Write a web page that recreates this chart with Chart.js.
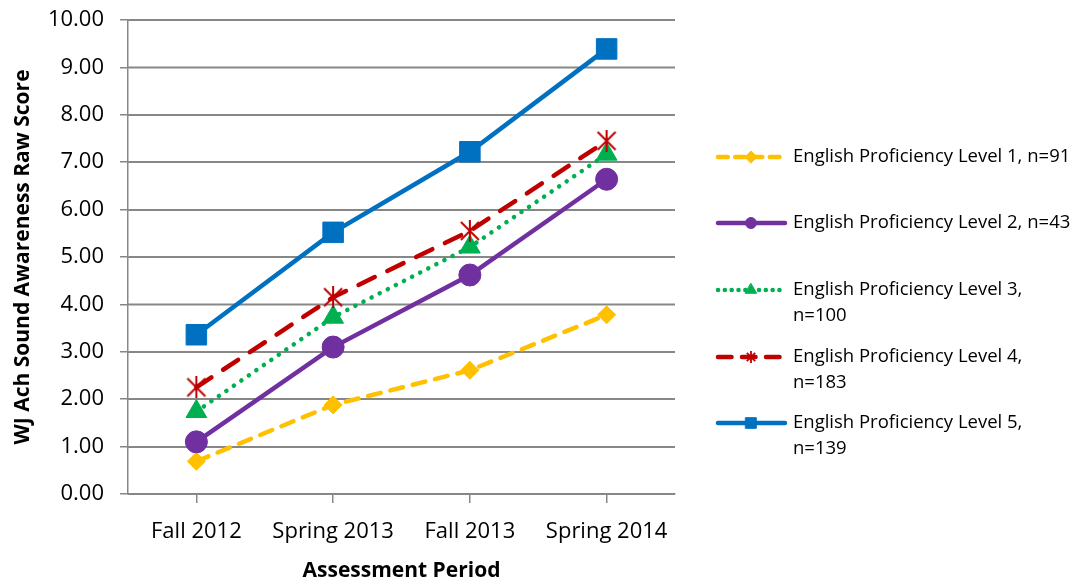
<!DOCTYPE html>
<html>
<head>
<meta charset="utf-8">
<script src="https://cdn.jsdelivr.net/npm/chart.js@4/dist/chart.umd.min.js"></script>
<style>
  html, body { margin: 0; padding: 0; background: #fff; }
  #wrap { width: 1080px; height: 585px; }
</style>
</head>
<body>
<div id="wrap"><canvas id="grafica" width="1080" height="585"></canvas></div>
<script>
// Datos
const periodos = ["Fall 2012", "Spring 2013", "Fall 2013", "Spring 2014"];
const nivel1 = [0.69, 1.88, 2.61, 3.78];
const nivel2 = [1.10, 3.10, 4.62, 6.64];
const nivel3 = [1.74, 3.73, 5.21, 7.17];
const nivel4 = [2.25, 4.15, 5.55, 7.45];
const nivel5 = [3.36, 5.52, 7.22, 9.39];
const etiquetas = [
  ["English Proficiency Level 1, n=91"],
  ["English Proficiency Level 2, n=43"],
  ["English Proficiency Level 3,", "n=100"],
  ["English Proficiency Level 4,", "n=183"],
  ["English Proficiency Level 5,", "n=139"],
];

const FUENTE = "'Open Sans', sans-serif";
const GRIS = "#878787";

// Marcador tipo asterisco de Excel (X con línea vertical)
function crearEstrella(tam, grosor) {
  const c = document.createElement("canvas");
  c.width = tam; c.height = tam;
  const g = c.getContext("2d");
  g.strokeStyle = "#C00000";
  g.lineWidth = grosor;
  const m = grosor, s = tam - grosor;
  g.beginPath();
  g.moveTo(m, m); g.lineTo(s, s);
  g.moveTo(s, m); g.lineTo(m, s);
  g.moveTo(tam / 2, 0); g.lineTo(tam / 2, tam);
  g.stroke();
  return c;
}
const estrella = crearEstrella(22, 2);
const estrellaChica = crearEstrella(12, 1.8);

const series = [
  { datos: nivel1, color: "#FFC000", punto: "rectRot", radio: 9, dash: [13, 10], radioLeyenda: 6 },
  { datos: nivel2, color: "#7030A0", punto: "circle", radio: 11, dash: [], radioLeyenda: 5.5 },
  { datos: nivel3, color: "#00B050", punto: "triangle", radio: 12, dash: [0.1, 9], radioLeyenda: 6.5 },
  { datos: nivel4, color: "#C00000", punto: estrella, radio: 11, dash: [18, 14], radioLeyenda: 6, chica: estrellaChica },
  { datos: nivel5, color: "#0070C0", punto: "rect", radio: 14.5, dash: [], radioLeyenda: 7.5 },
];

// Líneas horizontales de la cuadrícula
const cuadriculaPlugin = {
  id: "cuadricula",
  beforeDatasetsDraw(chart) {
    const ctx = chart.ctx;
    const y = chart.scales.y;
    const area = chart.chartArea;
    ctx.save();
    ctx.strokeStyle = GRIS;
    ctx.lineWidth = 1.5;
    y.ticks.forEach(function (t) {
      const py = Math.round(y.getPixelForValue(t.value)) + 0.25;
      ctx.beginPath();
      ctx.moveTo(area.left, py);
      ctx.lineTo(area.right, py);
      ctx.stroke();
    });
    ctx.restore();
  },
};

// Leyenda dibujada a la derecha
const leyendaPlugin = {
  id: "leyendaDerecha",
  afterDraw(chart) {
    const ctx = chart.ctx;
    const filas = [157, 223, 290, 357, 423];
    series.forEach(function (s, i) {
      const y = filas[i];
      ctx.save();
      ctx.strokeStyle = s.color;
      ctx.lineWidth = 4.5;
      ctx.lineCap = "round";
      ctx.setLineDash(s.dash.length ? s.dash.map(v => v * 0.75) : []);
      ctx.beginPath();
      ctx.moveTo(718, y);
      ctx.lineTo(785, y);
      ctx.stroke();
      ctx.setLineDash([]);
      ctx.fillStyle = s.color;
      ctx.strokeStyle = s.color;
      ctx.lineWidth = 1;
      if (s.chica) {
        ctx.drawImage(s.chica, 751 - 6, y - 6);
      } else {
        Chart.helpers.drawPoint(ctx, { pointStyle: s.punto, radius: s.radioLeyenda, borderWidth: 1, rotation: 0 }, 751, y);
      }
      ctx.fillStyle = "#000";
      ctx.font = "18.5px " + FUENTE;
      ctx.textBaseline = "middle";
      ctx.textAlign = "left";
      etiquetas[i].forEach(function (linea, j) {
        ctx.fillText(linea, 793, y + j * 26);
      });
      ctx.restore();
    });
  },
};

const ctx = document.getElementById("grafica").getContext("2d");
new Chart(ctx, {
  type: "line",
  data: {
    labels: periodos,
    datasets: series.map(function (s, i) {
      return {
        label: etiquetas[i].join(" "),
        data: s.datos,
        borderColor: s.color,
        backgroundColor: s.color,
        borderWidth: 4.5,
        borderDash: s.dash,
        borderCapStyle: "round",
        pointStyle: s.punto,
        pointRadius: s.radio,
        pointHoverRadius: s.radio,
        pointBorderWidth: 1,
        tension: 0,
        fill: false,
        order: 5 - i,
      };
    }),
  },
  options: {
    responsive: false,
    animation: false,
    layout: { padding: { top: 20, right: 405, left: 0, bottom: 0 } },
    plugins: {
      legend: { display: false },
      tooltip: { enabled: false },
    },
    scales: {
      x: {
        offset: true,
        grid: { display: true, drawOnChartArea: false, color: GRIS, lineWidth: 1.5, tickLength: 9 },
        border: { display: true, color: GRIS, width: 1.5 },
        ticks: { color: "#000", font: { family: FUENTE, size: 22 }, padding: 16 },
        title: {
          display: true,
          text: "Assessment Period",
          color: "#000",
          font: { family: FUENTE, size: 21, weight: "bold" },
          padding: { top: 0, bottom: 1 },
        },
        afterFit(scale) {
          scale.height = 91;
          scale.paddingLeft = 0;
          scale.paddingRight = 0;
        },
      },
      y: {
        min: 0,
        max: 10,
        ticks: {
          stepSize: 1,
          color: "#000",
          font: { family: FUENTE, size: 22 },
          padding: 16,
          callback: function (v) { return v.toFixed(2); },
        },
        grid: { display: true, drawOnChartArea: true, drawTicks: true, color: GRIS, lineWidth: 1.5, tickLength: 8 },
        border: { display: true, color: GRIS, width: 1.5 },
        title: {
          display: true,
          text: "WJ Ach Sound Awareness Raw Score",
          color: "#000",
          font: { family: FUENTE, size: 21, weight: "bold" },
          padding: { top: 10, bottom: 0 },
        },
        afterFit(scale) {
          scale.width = 128;
          scale.paddingTop = 0;
          scale.paddingBottom = 0;
        },
      },
    },
  },
  plugins: [cuadriculaPlugin, leyendaPlugin],
});
</script>
</body>
</html>
